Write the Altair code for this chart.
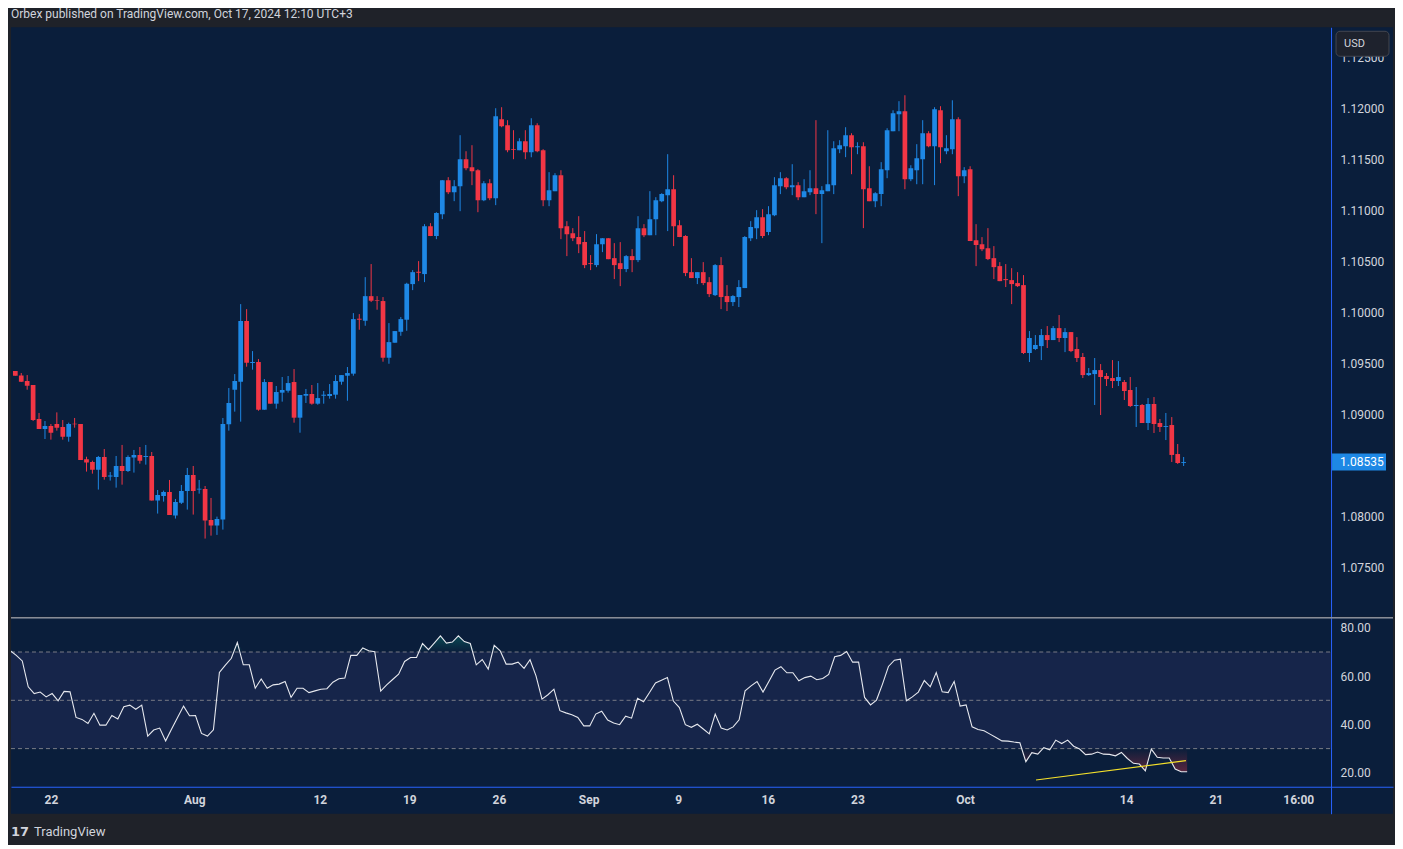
import altair as alt
import pandas as pd
import numpy as np

TITLE = "Orbex published on TradingView.com, Oct 17, 2024 12:10 UTC+3"

opens = [
    1.09427, 1.09384, 1.09329, 1.09290, 1.08957, 1.08859, 1.08888, 1.08908, 1.08879, 1.08784,
    1.08911, 1.08908, 1.08562, 1.08536, 1.08461, 1.08585, 1.08393, 1.08389, 1.08497, 1.08448,
    1.08579, 1.08605, 1.08585, 1.08595, 1.08158, 1.08204, 1.08243, 1.08011, 1.08138, 1.08253,
    1.08409, 1.08266, 1.08272, 1.07969, 1.07913, 1.07972, 1.08905, 1.09244, 1.09322, 1.09916,
    1.09505, 1.09515, 1.09048, 1.09319, 1.09107, 1.09215, 1.09234, 1.09319, 1.08970, 1.09185,
    1.09202, 1.09107, 1.09185, 1.09182, 1.09195, 1.09322, 1.09381, 1.09401, 1.09939, 1.09919,
    1.10160, 1.10121, 1.10112, 1.09557, 1.09704, 1.09811, 1.09929, 1.10278, 1.10399, 1.10376,
    1.10845, 1.10748, 1.10963, 1.11296, 1.11178, 1.11237, 1.11501, 1.11423, 1.11393, 1.11100,
    1.11266, 1.11119, 1.11892, 1.11834, 1.11599, 1.11589, 1.11677, 1.11569, 1.11834, 1.11589,
    1.11100, 1.11188, 1.11344, 1.10845, 1.10777, 1.10738, 1.10689, 1.10483, 1.10464, 1.10669,
    1.10728, 1.10532, 1.10483, 1.10425, 1.10552, 1.10513, 1.10826, 1.10757, 1.10914, 1.11090,
    1.11149, 1.11207, 1.10855, 1.10748, 1.10395, 1.10337, 1.10395, 1.10297, 1.10170, 1.10464,
    1.10161, 1.10102, 1.10151, 1.10239, 1.10728, 1.10826, 1.10933, 1.10787, 1.10953, 1.11237,
    1.11315, 1.11227, 1.11247, 1.11129, 1.11178, 1.11217, 1.11159, 1.11188, 1.11247, 1.11599,
    1.11628, 1.11736, 1.11618, 1.11628, 1.11217, 1.11090, 1.11159, 1.11393, 1.11775, 1.11941,
    1.11971, 1.11305, 1.11393, 1.11501, 1.11755, 1.11628, 1.11980, 1.11579, 1.11599, 1.11892,
    1.11335, 1.11403, 1.10708, 1.10669, 1.10630, 1.10532, 1.10454, 1.10327, 1.10317, 1.10288,
    1.10268, 1.09603, 1.09642, 1.09671, 1.09779, 1.09730, 1.09847, 1.09750, 1.09808, 1.09642,
    1.09564, 1.09387, 1.09397, 1.09436, 1.09378, 1.09358, 1.09329, 1.09319, 1.09241, 1.09084,
    1.09094, 1.08918, 1.09104, 1.08918, 1.08879, 1.08898, 1.08614, 1.08526,
]
highs = [
    1.09427, 1.09407, 1.09387, 1.09290, 1.09016, 1.08937, 1.08908, 1.09022, 1.08947, 1.08921,
    1.08967, 1.08908, 1.08588, 1.08549, 1.08595, 1.08663, 1.08438, 1.08595, 1.08703, 1.08601,
    1.08654, 1.08683, 1.08703, 1.08634, 1.08262, 1.08256, 1.08360, 1.08174, 1.08311, 1.08478,
    1.08497, 1.08360, 1.08301, 1.08184, 1.08001, 1.08967, 1.09260, 1.09397, 1.10082, 1.10033,
    1.09622, 1.09544, 1.09348, 1.09319, 1.09280, 1.09368, 1.09378, 1.09446, 1.09192, 1.09251,
    1.09290, 1.09309, 1.09231, 1.09299, 1.09387, 1.09387, 1.09466, 1.09994, 1.09984, 1.10346,
    1.10474, 1.10160, 1.10151, 1.09896, 1.09818, 1.09955, 1.10291, 1.10415, 1.10503, 1.10865,
    1.10875, 1.10982, 1.11296, 1.11325, 1.11296, 1.11736, 1.11579, 1.11638, 1.11403, 1.11286,
    1.11305, 1.12000, 1.12010, 1.11883, 1.11785, 1.11706, 1.11785, 1.11902, 1.11853, 1.11599,
    1.11374, 1.11364, 1.11393, 1.10894, 1.10826, 1.10943, 1.10797, 1.10562, 1.10767, 1.10728,
    1.10728, 1.10679, 1.10689, 1.10562, 1.10620, 1.10943, 1.10865, 1.11188, 1.11129, 1.11168,
    1.11550, 1.11344, 1.10904, 1.10757, 1.10532, 1.10395, 1.10493, 1.10346, 1.10474, 1.10542,
    1.10268, 1.10170, 1.10317, 1.10748, 1.10894, 1.11002, 1.11012, 1.11041, 1.11325, 1.11374,
    1.11325, 1.11452, 1.11276, 1.11305, 1.11393, 1.11883, 1.11237, 1.11785, 1.11677, 1.11687,
    1.11814, 1.11755, 1.11667, 1.11667, 1.11432, 1.11178, 1.11472, 1.11804, 1.11980, 1.12069,
    1.12127, 1.11442, 1.11648, 1.11883, 1.11775, 1.12010, 1.12020, 1.11736, 1.12078, 1.11912,
    1.11423, 1.11432, 1.10865, 1.10738, 1.10826, 1.10650, 1.10493, 1.10474, 1.10434, 1.10395,
    1.10366, 1.09818, 1.09779, 1.09838, 1.09867, 1.09867, 1.09975, 1.09847, 1.09808, 1.09759,
    1.09603, 1.09456, 1.09554, 1.09495, 1.09407, 1.09534, 1.09524, 1.09339, 1.09368, 1.09270,
    1.09104, 1.09162, 1.09172, 1.08957, 1.09016, 1.08976, 1.08712, 1.08585,
]
lows = [
    1.09381, 1.09319, 1.09244, 1.08937, 1.08859, 1.08761, 1.08755, 1.08843, 1.08755, 1.08735,
    1.08872, 1.08556, 1.08442, 1.08422, 1.08266, 1.08363, 1.08354, 1.08285, 1.08314, 1.08438,
    1.08432, 1.08520, 1.08510, 1.08158, 1.08031, 1.08148, 1.08018, 1.07982, 1.08125, 1.08070,
    1.08021, 1.08226, 1.07786, 1.07815, 1.07822, 1.07874, 1.08843, 1.09029, 1.08931, 1.09469,
    1.09440, 1.09038, 1.09048, 1.09107, 1.09058, 1.09127, 1.09215, 1.08921, 1.08823, 1.09114,
    1.09097, 1.09097, 1.09107, 1.09156, 1.09156, 1.09293, 1.09136, 1.09381, 1.09831, 1.09870,
    1.10102, 1.10027, 1.09518, 1.09498, 1.09704, 1.09772, 1.09821, 1.10219, 1.10307, 1.10297,
    1.10748, 1.10718, 1.10914, 1.11159, 1.11090, 1.10992, 1.11393, 1.11247, 1.10982, 1.11090,
    1.11100, 1.11051, 1.11814, 1.11569, 1.11501, 1.11589, 1.11501, 1.11520, 1.11569, 1.11041,
    1.11041, 1.11188, 1.10718, 1.10552, 1.10699, 1.10581, 1.10434, 1.10415, 1.10444, 1.10591,
    1.10522, 1.10327, 1.10258, 1.10395, 1.10395, 1.10493, 1.10738, 1.10757, 1.10757, 1.11080,
    1.10797, 1.10650, 1.10738, 1.10356, 1.10337, 1.10278, 1.10268, 1.10151, 1.10161, 1.10033,
    1.10014, 1.10063, 1.10053, 1.10239, 1.10699, 1.10718, 1.10728, 1.10757, 1.10943, 1.11159,
    1.11207, 1.11149, 1.11100, 1.11129, 1.11149, 1.10963, 1.10679, 1.11188, 1.11159, 1.11560,
    1.11521, 1.11354, 1.11550, 1.10826, 1.11090, 1.11031, 1.11041, 1.11315, 1.11775, 1.11775,
    1.11207, 1.11286, 1.11256, 1.11256, 1.11618, 1.11247, 1.11462, 1.11550, 1.11550, 1.11139,
    1.11266, 1.10699, 1.10454, 1.10601, 1.10513, 1.10327, 1.10307, 1.10249, 1.10082, 1.10249,
    1.09593, 1.09515, 1.09632, 1.09534, 1.09652, 1.09730, 1.09710, 1.09612, 1.09612, 1.09515,
    1.09358, 1.09378, 1.09094, 1.08996, 1.09280, 1.09260, 1.09280, 1.09143, 1.09074, 1.08879,
    1.08918, 1.08849, 1.08820, 1.08830, 1.08751, 1.08536, 1.08517, 1.08497,
]
closes = [
    1.09381, 1.09322, 1.09283, 1.08947, 1.08859, 1.08888, 1.08823, 1.08872, 1.08784, 1.08908,
    1.08905, 1.08556, 1.08530, 1.08461, 1.08585, 1.08389, 1.08403, 1.08497, 1.08448, 1.08585,
    1.08605, 1.08549, 1.08595, 1.08158, 1.08213, 1.08243, 1.08018, 1.08145, 1.08253, 1.08409,
    1.08253, 1.08275, 1.07962, 1.07913, 1.07979, 1.08908, 1.09114, 1.09329, 1.09916, 1.09508,
    1.09515, 1.09048, 1.09319, 1.09107, 1.09221, 1.09241, 1.09309, 1.08970, 1.09192, 1.09202,
    1.09107, 1.09162, 1.09195, 1.09202, 1.09329, 1.09387, 1.09407, 1.09935, 1.09929, 1.10160,
    1.10115, 1.10115, 1.09557, 1.09710, 1.09818, 1.09935, 1.10281, 1.10395, 1.10389, 1.10845,
    1.10748, 1.10973, 1.11296, 1.11178, 1.11237, 1.11501, 1.11413, 1.11384, 1.11100, 1.11266,
    1.11119, 1.11922, 1.11824, 1.11589, 1.11592, 1.11677, 1.11569, 1.11834, 1.11579, 1.11100,
    1.11198, 1.11344, 1.10826, 1.10767, 1.10728, 1.10669, 1.10464, 1.10474, 1.10669, 1.10728,
    1.10522, 1.10464, 1.10425, 1.10552, 1.10513, 1.10826, 1.10757, 1.10914, 1.11100, 1.11159,
    1.11207, 1.10845, 1.10738, 1.10386, 1.10337, 1.10395, 1.10288, 1.10180, 1.10464, 1.10151,
    1.10102, 1.10161, 1.10249, 1.10738, 1.10836, 1.10933, 1.10748, 1.10963, 1.11247, 1.11315,
    1.11227, 1.11247, 1.11129, 1.11188, 1.11217, 1.11159, 1.11198, 1.11256, 1.11609, 1.11638,
    1.11736, 1.11618, 1.11628, 1.11207, 1.11090, 1.11168, 1.11403, 1.11785, 1.11951, 1.11971,
    1.11305, 1.11413, 1.11511, 1.11755, 1.11628, 1.11990, 1.11618, 1.11609, 1.11892, 1.11335,
    1.11393, 1.10699, 1.10660, 1.10620, 1.10523, 1.10444, 1.10307, 1.10317, 1.10278, 1.10258,
    1.09603, 1.09750, 1.09681, 1.09779, 1.09730, 1.09847, 1.09750, 1.09808, 1.09622, 1.09554,
    1.09387, 1.09407, 1.09436, 1.09368, 1.09348, 1.09329, 1.09368, 1.09231, 1.09084, 1.09094,
    1.08918, 1.09104, 1.08908, 1.08879, 1.08888, 1.08605, 1.08526, 1.08535,
]
rsi = [
    70.5, 68.6, 66.3, 55.6, 52.8, 53.4, 51.4, 52.8, 49.8, 53.7,
    53.5, 42.9, 42.1, 40.4, 44.6, 39.7, 39.7, 43.7, 42.3, 47.3,
    48.0, 46.3, 48.0, 35.2, 37.7, 38.5, 33.2, 38.1, 42.9, 47.6,
    43.6, 43.7, 36.3, 35.2, 37.8, 61.5, 64.6, 67.4, 73.9, 64.7,
    64.7, 55.0, 58.8, 55.0, 56.4, 56.7, 57.8, 51.2, 55.0, 55.0,
    53.2, 53.9, 54.6, 54.8, 57.5, 58.9, 59.2, 68.6, 68.6, 71.7,
    70.5, 70.1, 53.8, 56.4, 58.6, 60.8, 66.1, 67.7, 67.7, 73.5,
    71.0, 73.8, 76.7, 73.7, 74.1, 76.7, 74.3, 73.5, 64.7, 66.9,
    62.9, 72.8, 70.5, 65.0, 65.0, 65.8, 63.2, 66.8, 60.1, 50.5,
    52.3, 54.6, 45.7, 44.8, 44.0, 42.9, 39.4, 39.4, 44.3, 45.5,
    41.8, 40.6, 39.9, 43.4, 42.6, 50.8, 49.4, 53.2, 57.2, 58.3,
    59.4, 49.7, 47.0, 39.9, 38.8, 40.1, 38.1, 36.1, 44.3, 38.5,
    37.7, 39.0, 41.9, 53.9, 56.0, 57.8, 53.4, 57.9, 62.5, 63.9,
    61.4, 61.4, 58.1, 59.4, 60.0, 58.5, 59.0, 60.7, 68.0, 68.6,
    70.2, 65.8, 65.8, 51.2, 48.1, 50.1, 56.7, 64.0, 66.6, 67.0,
    49.8, 51.4, 53.4, 58.2, 55.6, 61.5, 53.5, 53.2, 57.8, 47.6,
    48.1, 39.0, 37.9, 37.4, 36.0, 34.6, 33.2, 33.1, 32.7, 32.4,
    24.6, 28.3, 27.7, 30.4, 29.5, 33.5, 32.1, 33.5, 31.0, 29.8,
    27.5, 27.7, 28.6, 27.7, 27.6, 27.0, 28.4, 25.9, 23.9, 23.6,
    20.8, 29.8, 26.4, 26.1, 26.1, 21.5, 20.4, 20.4,
]

tick_positions = [7.8, 31.8, 52.8, 67.8, 82.8, 97.8, 112.8, 127.8, 142.8, 160.8, 187.8, 202.8, 216.6]
tick_labels = ["22", "Aug", "12", "19", "26", "Sep", "9", "16", "23", "Oct", "14", "21", "16:00"]
price_ticks = [1.075, 1.080, 1.090, 1.095, 1.100, 1.105, 1.110, 1.115, 1.120, 1.125]
rsi_ticks = [20, 40, 60, 80]
rsi_levels = [70, 50, 30]
trend_n = [172.7, 197.8]
trend_rsi = [17.0, 25.0]

UP = "#1e88e5"
DOWN = "#f23645"
NAVY = "#0a1e3b"
OUTER = "#1f2229"
BAND = "#16254a"
AXIS_BLUE = "#2962ff"
TEXT = "#d1d4dc"
FONT = "Roboto"

W = 1383
H1 = 590
H2 = 196
AX = 1321
AXOFF = AX - W
X_DOMAIN = [1.114, 232.46]
P_DOMAIN = [1.070196, 1.127926]
R_DOMAIN = [3.03, 84.14]

n = min(len(opens), len(highs), len(lows), len(closes))
df = pd.DataFrame({
    "n": np.arange(1, n + 1),
    "open": opens[:n], "high": highs[:n], "low": lows[:n], "close": closes[:n],
})
df["dir"] = np.where(df["close"] >= df["open"], "up", "down")
df["top"] = df[["open", "close"]].max(axis=1)
df["bot"] = df[["open", "close"]].min(axis=1)

m = len(rsi)
rdf = pd.DataFrame({"n": np.arange(1, m + 1), "rsi": rsi})
rdf["ob"] = rdf["rsi"].clip(lower=70)
rdf["ob0"] = 70
rdf["os"] = rdf["rsi"].clip(upper=30)
rdf["os0"] = 30

xs = alt.Scale(domain=X_DOMAIN, nice=False, zero=False)
ps = alt.Scale(domain=P_DOMAIN, nice=False, zero=False)
rs = alt.Scale(domain=R_DOMAIN, nice=False, zero=False)
col = alt.Color("dir:N", scale=alt.Scale(domain=["up", "down"], range=[UP, DOWN]), legend=None)

py_axis = alt.Axis(orient="right", offset=AXOFF, values=price_ticks, format=".5f", grid=False,
                   ticks=False, domainColor=AXIS_BLUE, domainWidth=1, labelColor=TEXT,
                   labelFont=FONT, labelFontSize=12, labelPadding=9, labelFlush=False,
                   labelOverlap=False, labelAlign="left", labelBaseline="middle", title=None)

expr = " : ".join(f"datum.value == {p} ? '{l}'" for p, l in zip(tick_positions, tick_labels)) + " : ''"
rx_axis = alt.Axis(orient="bottom", offset=-27, values=tick_positions, labelExpr=expr, grid=False,
                   ticks=False, domainColor=AXIS_BLUE, domainWidth=1, labelColor=TEXT, labelFont=FONT,
                   labelFontSize=12, labelFontWeight="bold", labelPadding=8, labelFlush=False,
                   labelOverlap=False, title=None)
ry_axis = alt.Axis(orient="right", offset=AXOFF, values=rsi_ticks, format=".2f", grid=False,
                   ticks=False, domainColor=AXIS_BLUE, domainWidth=1, labelColor=TEXT,
                   labelFont=FONT, labelFontSize=12, labelPadding=9, labelFlush=False,
                   labelOverlap=False, labelAlign="left", labelBaseline="middle", title=None)

xp = alt.X("n:Q", scale=xs, axis=None)

wicks = alt.Chart(df).mark_rule(strokeWidth=1, clip=True).encode(
    x=xp, y=alt.Y("high:Q", scale=ps, axis=py_axis), y2="low:Q", color=col)
bodies = alt.Chart(df).mark_bar(size=4.7, clip=True).encode(
    x=xp, y=alt.Y("top:Q", scale=ps, axis=py_axis), y2="bot:Q", color=col)

last = pd.DataFrame({"price": [closes[n - 1]]})
tag = alt.Chart(last).mark_rule(strokeWidth=17, color=UP).encode(
    x=alt.value(AX + 1), x2=alt.value(AX + 55), y=alt.Y("price:Q", scale=ps, axis=py_axis))
tag_text = alt.Chart(last).mark_text(align="left", baseline="middle", color="#ffffff",
                                     font=FONT, fontSize=12).encode(
    x=alt.value(AX + 9), y=alt.Y("price:Q", scale=ps, axis=py_axis),
    text=alt.Text("price:Q", format=".5f"))

usd_df = pd.DataFrame({"t": ["USD"]})
usd_box = alt.Chart(usd_df).mark_rect(cornerRadius=4, fill="#1e222d", stroke="#434651",
                                      strokeWidth=1).encode(
    x=alt.value(AX + 5), x2=alt.value(AX + 58), y=alt.value(4), y2=alt.value(29))
usd_text = alt.Chart(usd_df).mark_text(align="left", baseline="middle", color=TEXT,
                                       font=FONT, fontSize=11).encode(
    x=alt.value(AX + 13), y=alt.value(17), text="t:N")

title_df = pd.DataFrame({"t": [TITLE]})
title = alt.Chart(title_df).mark_text(align="left", baseline="middle", color=TEXT,
                                      font=FONT, fontSize=12).encode(
    x=alt.value(0), y=alt.value(-13), text="t:N")

price = alt.layer(wicks, bodies, tag, tag_text, usd_box, usd_text, title).properties(
    width=W, height=H1)

xr = alt.X("n:Q", scale=xs, axis=rx_axis)

band = alt.Chart(pd.DataFrame({"hi": [70], "lo": [30]})).mark_rect(color=BAND).encode(
    x=alt.value(0), x2=alt.value(AX), y=alt.Y("hi:Q", scale=rs, axis=ry_axis), y2="lo:Q")
dashes = alt.Chart(pd.DataFrame({"level": rsi_levels})).mark_rule(
    color="#787b86", strokeDash=[4, 3], strokeWidth=1).encode(
    x=alt.value(0), x2=alt.value(AX), y=alt.Y("level:Q", scale=rs, axis=ry_axis))

green_grad = alt.Gradient(gradient="linear",
                          stops=[alt.GradientStop(color="rgba(8,153,129,0.35)", offset=0),
                                 alt.GradientStop(color="rgba(8,153,129,0.0)", offset=1)],
                          x1=0, x2=0, y1=0, y2=1)
red_grad = alt.Gradient(gradient="linear",
                        stops=[alt.GradientStop(color="rgba(242,54,69,0.0)", offset=0),
                               alt.GradientStop(color="rgba(242,54,69,0.35)", offset=1)],
                        x1=0, x2=0, y1=0, y2=1)
ob_area = alt.Chart(rdf).mark_area(clip=True, color=green_grad).encode(
    x=xr, y=alt.Y("ob:Q", scale=rs, axis=ry_axis), y2="ob0:Q")
os_area = alt.Chart(rdf).mark_area(clip=True, color=red_grad).encode(
    x=xr, y=alt.Y("os0:Q", scale=rs, axis=ry_axis), y2="os:Q")
rsi_line = alt.Chart(rdf).mark_line(color="#e6e8ee", strokeWidth=1.1, clip=True).encode(
    x=xr, y=alt.Y("rsi:Q", scale=rs, axis=ry_axis))
trend = alt.Chart(pd.DataFrame({"n": trend_n, "rsi": trend_rsi})).mark_line(
    color="#f5e12b", strokeWidth=1.2, clip=True).encode(
    x=xr, y=alt.Y("rsi:Q", scale=rs, axis=ry_axis))

sep = alt.Chart(pd.DataFrame({"a": [0]})).mark_rule(color="#c8cbd3", strokeWidth=1).encode(
    x=alt.value(0), x2=alt.value(W), y=alt.value(0))

logo = alt.Chart(pd.DataFrame({"t": ["17"]})).mark_text(
    align="left", baseline="middle", color=TEXT, font="DejaVu Sans", fontSize=13,
    fontWeight="bold").encode(x=alt.value(0), y=alt.value(214), text="t:N")
footer = alt.Chart(pd.DataFrame({"t": ["TradingView"]})).mark_text(
    align="left", baseline="middle", color=TEXT, font=FONT, fontSize=13).encode(
    x=alt.value(23), y=alt.value(214), text="t:N")

rsi_panel = alt.layer(band, dashes, ob_area, os_area, rsi_line, trend, sep, logo, footer).properties(
    width=W, height=H2)

chart = alt.vconcat(price, rsi_panel, spacing=0).properties(
    background=OUTER,
    padding={"left": 2, "top": 0, "right": 0, "bottom": 6},
).configure_view(stroke=None, fill=NAVY)

chart.save("out.html", embed_options={"renderer": "svg", "actions": False})
